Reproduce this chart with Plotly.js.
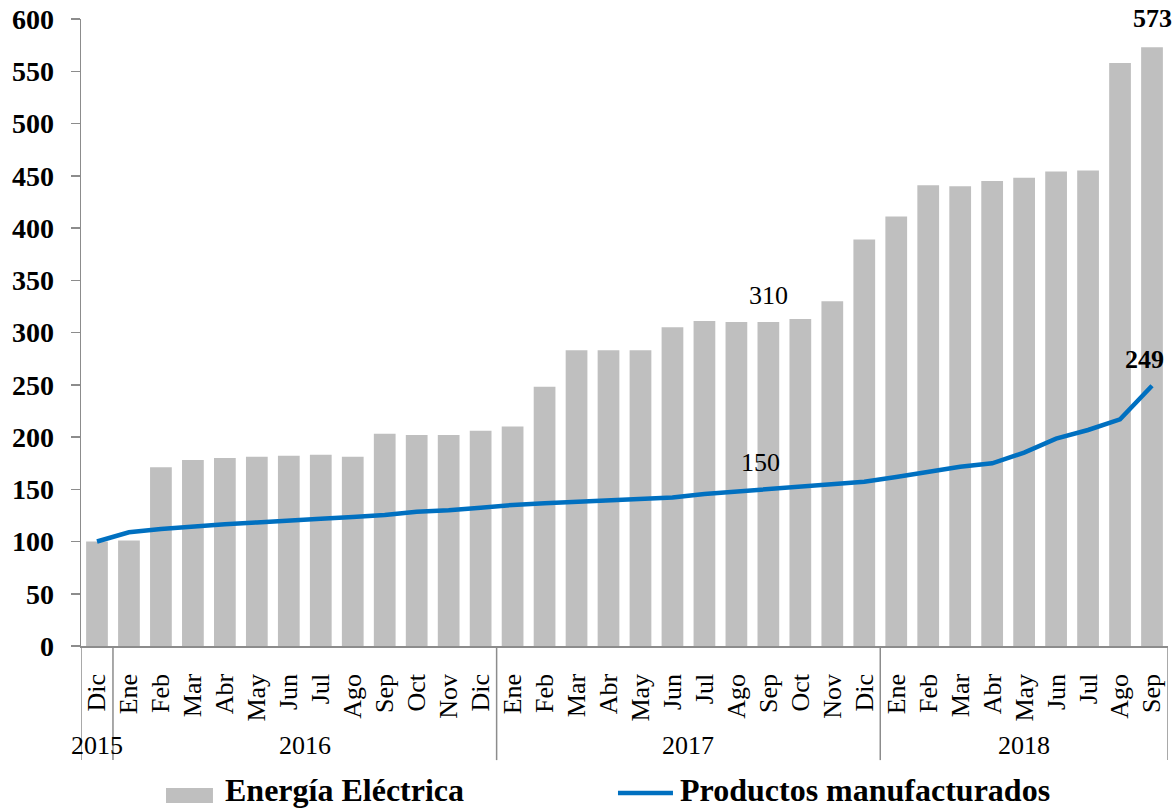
<!DOCTYPE html>
<html>
<head>
<meta charset="utf-8">
<script src="https://cdn.plot.ly/plotly-3.0.1.min.js"></script>
<style>html,body{margin:0;padding:0;background:#fff;}#chart{width:1174px;height:810px;}</style>
</head>
<body>
<div id="chart"></div>
<script>
// Month tick labels (Dic 2015 .. Sep 2018)
const months = ["Dic",
  "Ene","Feb","Mar","Abr","May","Jun","Jul","Ago","Sep","Oct","Nov","Dic",
  "Ene","Feb","Mar","Abr","May","Jun","Jul","Ago","Sep","Oct","Nov","Dic",
  "Ene","Feb","Mar","Abr","May","Jun","Jul","Ago","Sep"];
// Year groups: label, first index, last index
const years = ["2015","2016","2017","2018"];
const yearStart = [0, 1, 13, 25];
const yearEnd = [0, 12, 24, 33];

const energia = [100,
  101,171,178,180,181,182,183,181,203,202,202,206,
  210,248,283,283,283,305,311,310,310,313,330,389,
  411,441,440,445,448,454,455,558,573];
const productos = [100,
  108.8,112,114.5,116.4,118.3,119.6,121.8,123.4,125.4,128.5,129.9,132.4,
  135,136.5,137.8,138.8,140,142,145.5,148,150.2,152.5,154.7,157.2,
  161.7,167.2,171.6,174.8,185,198.4,206.7,216.9,249];

const nameBar = "Energía Eléctrica";
const nameLine = "Productos manufacturados";

// indices of labelled points
const barLabelIdx = [21, 33];
const lineLabelIdx = [21, 33];
const labelBold = [false, true];

const idx = months.map((m, i) => i);
const FONT = "Liberation Serif";

const traces = [
  {type: "bar", x: idx, y: energia, name: nameBar, marker: {color: "#bfbfbf"}, showlegend: false, hoverinfo: "y"},
  {type: "scatter", mode: "lines", x: idx, y: productos, name: nameLine,
   line: {color: "#0070c0", width: 4.5}, showlegend: false, hoverinfo: "y"}
];

const annotations = [];
barLabelIdx.forEach((k, j) => {
  annotations.push({x: k, y: energia[k], xref: "x", yref: "y", text: String(Math.round(energia[k])),
    showarrow: false, yanchor: "bottom", yshift: j === 1 ? 12 : 10,
    font: {family: FONT, size: 26, color: "#000", weight: labelBold[j] ? "bold" : "normal"}});
});
lineLabelIdx.forEach((k, j) => {
  annotations.push({x: k, y: productos[k], xref: "x", yref: "y", text: String(Math.round(productos[k])),
    showarrow: false, yanchor: "bottom", yshift: 10, xshift: -8,
    font: {family: FONT, size: 26, color: "#000", weight: labelBold[j] ? "bold" : "normal"}});
});
years.forEach((yl, j) => {
  annotations.push({x: (yearStart[j] + yearEnd[j]) / 2, y: -0.158, xref: "x", yref: "paper", text: yl,
    showarrow: false, yanchor: "middle", font: {family: FONT, size: 26, color: "#000"}});
});
// manual legend
annotations.push({x: 0.1306, y: -0.2616, xref: "paper", yref: "paper", text: nameBar, showarrow: false,
  xanchor: "left", yanchor: "bottom", font: {family: FONT, size: 32, color: "#000", weight: "bold"}});
annotations.push({x: 0.549, y: -0.2616, xref: "paper", yref: "paper", text: nameLine, showarrow: false,
  xanchor: "left", yanchor: "bottom", font: {family: FONT, size: 32, color: "#000", weight: "bold"}});

const shapes = [];
const sepX = [-0.5, 0.5, 12.5, 24.5, 33.5];
sepX.forEach(sx => {
  shapes.push({type: "line", xref: "x", yref: "paper", x0: sx, x1: sx, y0: 0, y1: -0.182,
    line: {color: "#8c8c8c", width: 1.5}});
});
shapes.push({type: "rect", xref: "paper", yref: "paper", x0: 0.0782, x1: 0.1214, y0: -0.2504, y1: -0.2265,
  fillcolor: "#bfbfbf", line: {width: 0}});
shapes.push({type: "line", xref: "paper", yref: "paper", x0: 0.494, x1: 0.5446, y0: -0.2344, y1: -0.2344,
  line: {color: "#0070c0", width: 4.5}});

const layout = {
  width: 1174, height: 810,
  margin: {l: 81, r: 6, t: 19, b: 164},
  paper_bgcolor: "#fff", plot_bgcolor: "#fff",
  bargap: 0.32,
  showlegend: false,
  font: {family: FONT, color: "#000"},
  xaxis: {
    range: [-0.5, 33.5], tickmode: "array", tickvals: idx, ticktext: months,
    tickangle: -90, ticks: "", showgrid: false, zeroline: false,
    showline: true, linecolor: "#8c8c8c", linewidth: 1.5,
    ticklabelstandoff: 16,
    tickfont: {family: FONT, size: 26, color: "#000"}, fixedrange: true
  },
  yaxis: {
    range: [0, 600], dtick: 50, tick0: 0, showgrid: false, zeroline: false,
    showline: true, linecolor: "#8c8c8c", linewidth: 1.5,
    ticks: "outside", ticklen: 9, tickcolor: "#8c8c8c", tickwidth: 1.5,
    ticklabelstandoff: 11,
    tickfont: {family: FONT, size: 28, color: "#000", weight: "bold"}, fixedrange: true
  },
  annotations: annotations,
  shapes: shapes
};

Plotly.newPlot("chart", traces, layout, {displayModeBar: false, staticPlot: true});
</script>
</body>
</html>
